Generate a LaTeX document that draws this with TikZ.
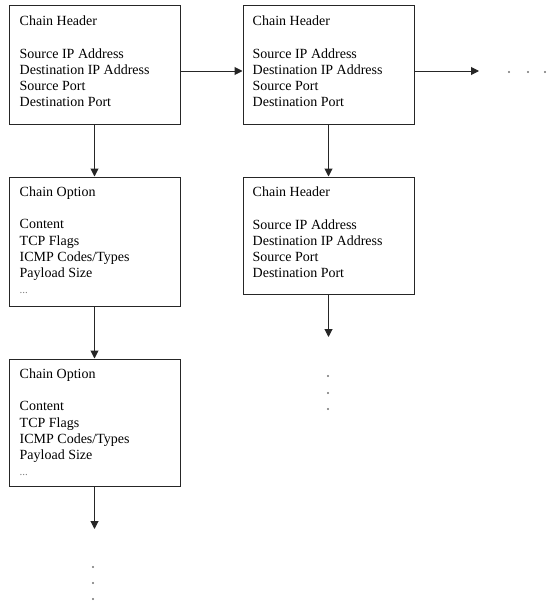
\documentclass[tikz,border=0pt]{standalone}
\usepackage{fontspec}
\setmainfont{Liberation Serif}
\usetikzlibrary{arrows.meta}
\begin{document}
\begin{tikzpicture}[x=1pt,y=-1pt,
  box/.style={draw=black!85,line width=1pt,inner sep=0pt},
  label/.style={anchor=north west,inner sep=0pt,align=left,
    font=\fontsize{14}{16.2}\selectfont},
  link/.style={draw=black!85,line width=1pt,-{Triangle[length=8pt,width=8pt]}},
  dot/.style={fill=black!55,draw=none}]
\useasboundingbox (0,0) rectangle (547,602);
\newcommand{\faint}{\textcolor{black!50}{\fontsize{11}{11}\selectfont...}}

% chain boxes
\node[box,minimum width=171pt,minimum height=118pt] (hA) at (94.5,65) {};
\node[box,minimum width=171pt,minimum height=118pt] (hB) at (328.5,65) {};
\node[box,minimum width=171pt,minimum height=129pt] (oA) at (94.5,241.5) {};
\node[box,minimum width=171pt,minimum height=117pt] (hC) at (328.5,235.5) {};
\node[box,minimum width=171pt,minimum height=127pt] (oB) at (94.5,422.5) {};

% box contents
\node[label] (thA) at ([xshift=11pt,yshift=-10.5pt]hA.north west)
  {Chain Header\\[16.2pt]Source IP Address\\Destination IP Address\\Source Port\\Destination Port};
\node[label] (thB) at ([xshift=10pt,yshift=-10.5pt]hB.north west)
  {Chain Header\\[16.2pt]Source IP Address\\Destination IP Address\\Source Port\\Destination Port};
\node[label] (thC) at ([xshift=10pt,yshift=-10.5pt]hC.north west)
  {Chain Header\\[16.2pt]Source IP Address\\Destination IP Address\\Source Port\\Destination Port};
\node[label] (toA) at ([xshift=11pt,yshift=-10pt]oA.north west)
  {Chain Option\\[16.2pt]Content\\TCP Flags\\ICMP Codes/Types\\Payload Size\\\faint};
\node[label] (toB) at ([xshift=11pt,yshift=-10pt]oB.north west)
  {Chain Option\\[16.2pt]Content\\TCP Flags\\ICMP Codes/Types\\Payload Size\\\faint};

% open ends of the chains
\coordinate (row) at (0,71);
\coordinate (nextR) at (479,71);
\coordinate (nextC) at (328.5,337);
\coordinate (nextO) at (94.5,529);

% connectors
\draw[link] (hA.east |- row) -- (hB.west |- row);
\draw[link] (hB.east |- row) -- (nextR);
\draw[link] (hA.south) -- (oA.north);
\draw[link] (oA.south) -- (oB.north);
\draw[link] (hB.south) -- (hC.north);
\draw[link] (hC.south) -- (nextC);
\draw[link] (oB.south) -- (nextO);

% continuation dots
\foreach \x in {509,528,545} \fill[dot] (\x,72) circle (1.1pt);
\foreach \y in {376,393,409} \fill[dot] (328,\y) circle (1.1pt);
\foreach \y in {567,583,599} \fill[dot] (93,\y) circle (1.1pt);
\end{tikzpicture}
\end{document}
